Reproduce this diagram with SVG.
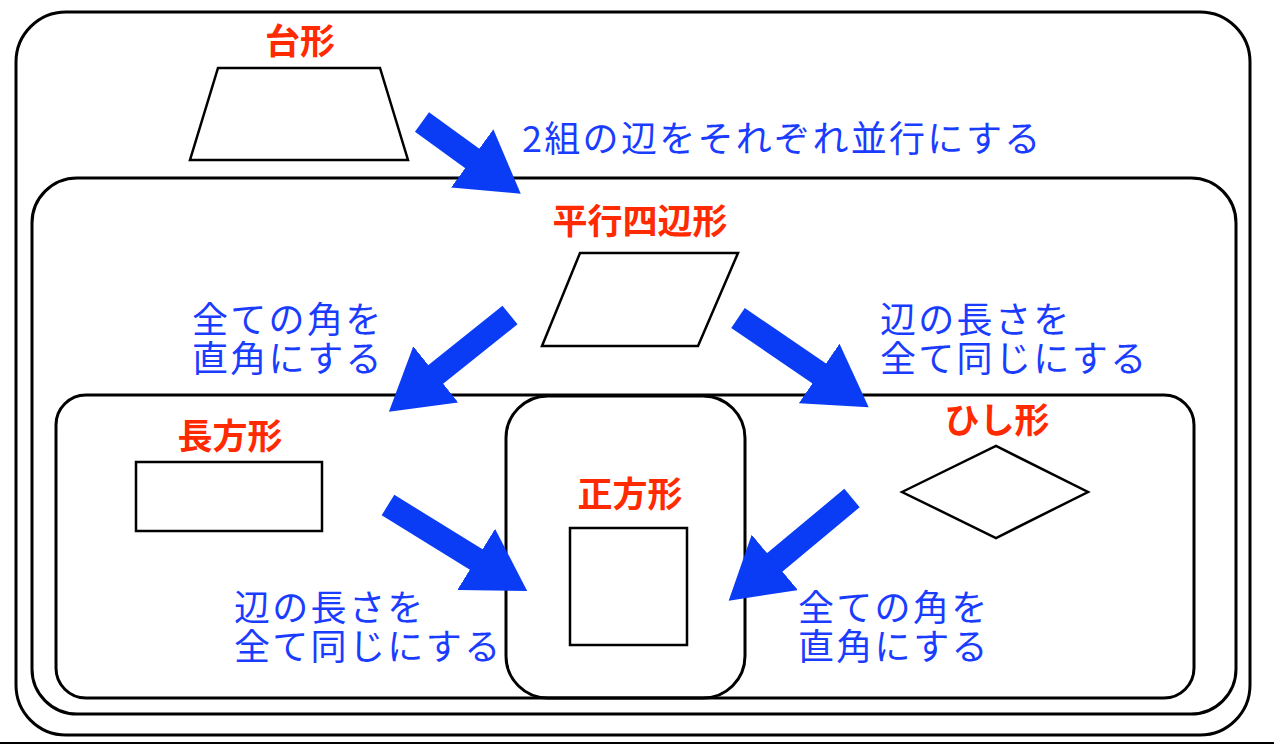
<svg xmlns="http://www.w3.org/2000/svg" width="1274" height="748" viewBox="0 0 1274 748">
<style>
.box{fill:none;stroke:#000;stroke-width:3}
.shape{fill:#fff;stroke:#000;stroke-width:2.5}
.red{font-family:"Noto Sans CJK JP",sans-serif;font-size:35px;font-weight:bold;fill:#ff2a00;text-anchor:middle}
.blue{font-family:"Noto Sans CJK JP",sans-serif;font-size:36px;letter-spacing:2.3px;fill:#1a3cff}
.arr{stroke:#0a3cf5;stroke-width:24;fill:none;marker-end:url(#ah)}
</style>
<defs>
<marker id="ah" markerUnits="userSpaceOnUse" markerWidth="62" markerHeight="72" refX="1" refY="36" orient="auto">
<path d="M0,0 L60,36 L0,72 Z" fill="#0a3cf5"/>
</marker>
</defs>
<rect width="1274" height="748" fill="#fff"/>
<line x1="0" y1="743" x2="1274" y2="743" stroke="#000" stroke-width="2"/>
<g id="containers">
<rect class="box" x="16" y="12" width="1234" height="723" rx="50"/>
<rect class="box" x="32" y="178" width="1204" height="536" rx="45"/>
<rect class="box" x="56" y="395" width="1138" height="303" rx="30"/>
<rect class="box" x="506" y="396" width="239" height="302" rx="42"/>
</g>
<g id="trapezoid"><polygon class="shape" points="218,68 380,68 408,160 190,160"/><text class="red" x="300" y="54">台形</text></g>
<g id="parallelogram"><polygon class="shape" points="580,253 738,253 698,346 542,346"/><text class="red" x="640" y="234">平行四辺形</text></g>
<g id="rectangle"><rect class="shape" x="136" y="462" width="186" height="69"/><text class="red" x="230" y="449">長方形</text></g>
<g id="rhombus"><polygon class="shape" points="902,492 996,446 1088,492 996,538"/><text class="red" x="997" y="433">ひし形</text></g>
<g id="square"><rect class="shape" x="570" y="528" width="117" height="117"/><text class="red" x="630" y="507">正方形</text></g>
<g id="connectors">
<line class="arr" x1="422" y1="122" x2="473" y2="159"/>
<line class="arr" x1="510" y1="315" x2="435" y2="375"/>
<line class="arr" x1="738" y1="318" x2="820" y2="374"/>
<line class="arr" x1="388" y1="505" x2="477" y2="560"/>
<line class="arr" x1="852" y1="498" x2="774" y2="563"/>
</g>
<g id="labels">
<text class="blue" x="522" y="152">2組の辺をそれぞれ並行にする</text>
<text class="blue" x="192" y="333">全ての角を</text>
<text class="blue" x="192" y="372">直角にする</text>
<text class="blue" x="880" y="333">辺の長さを</text>
<text class="blue" x="880" y="372">全て同じにする</text>
<text class="blue" x="234" y="621">辺の長さを</text>
<text class="blue" x="234" y="660">全て同じにする</text>
<text class="blue" x="798" y="621">全ての角を</text>
<text class="blue" x="798" y="660">直角にする</text>
</g>
</svg>
